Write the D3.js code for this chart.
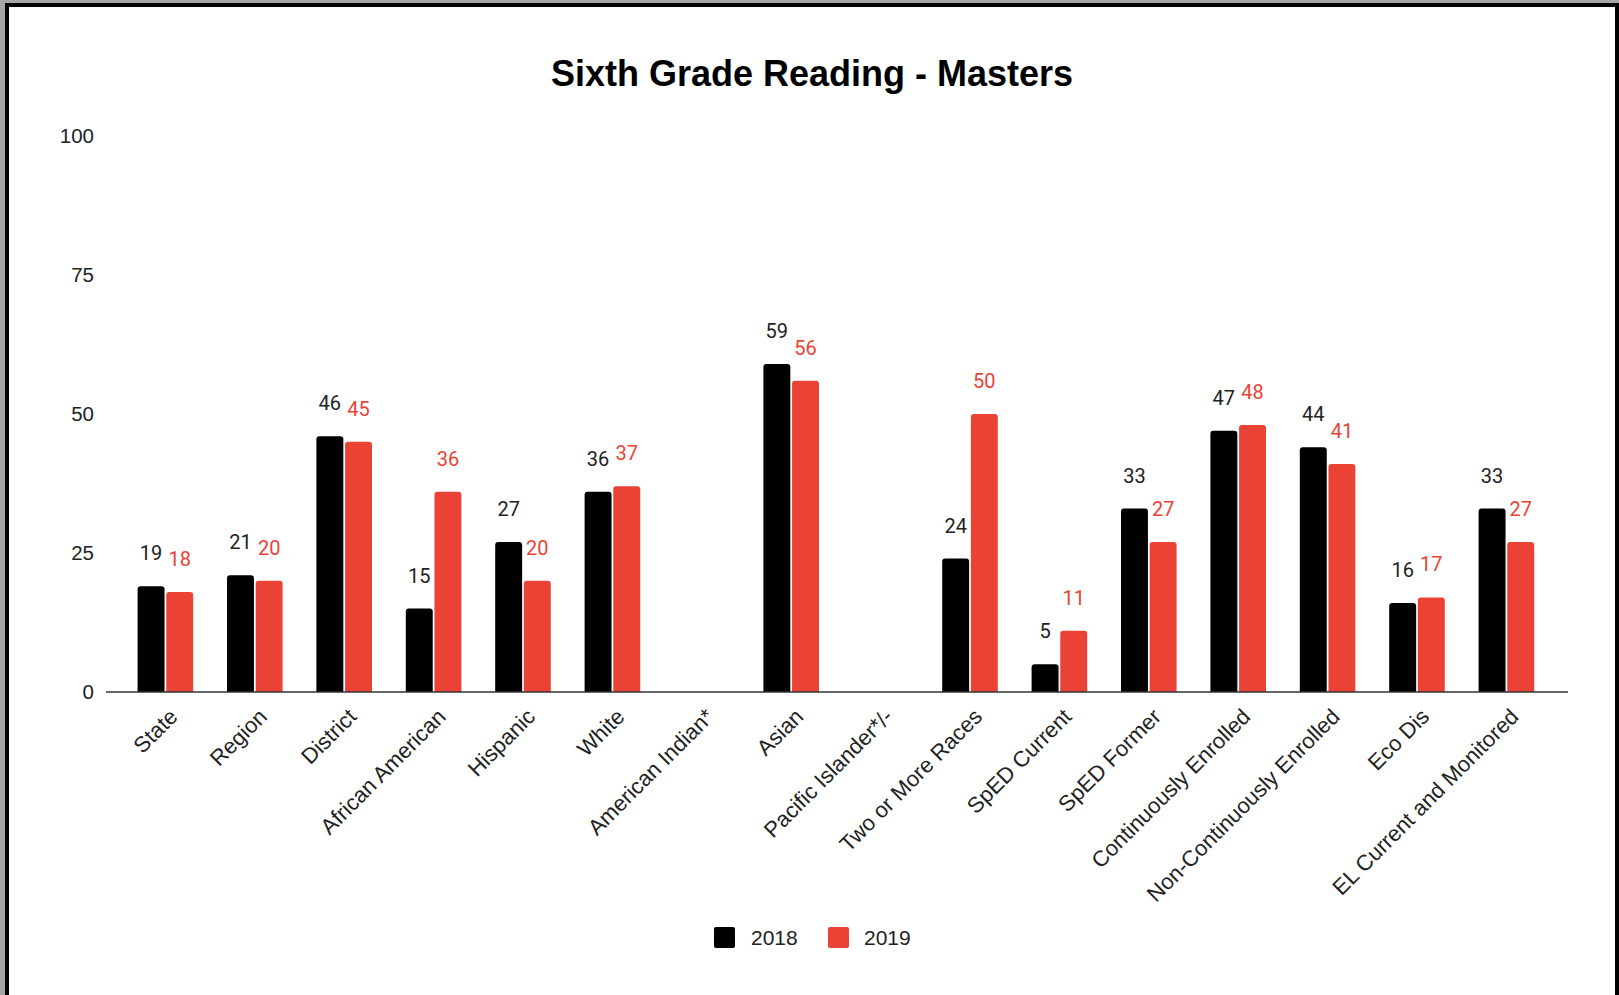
<!DOCTYPE html>
<html>
<head>
<meta charset="utf-8">
<script src="https://cdn.jsdelivr.net/npm/d3@7"></script>
<style>
  html, body { margin: 0; padding: 0; background: #a6a6a6; }
  svg { display: block; }
</style>
</head>
<body>
<svg id="chart" width="1619" height="995"></svg>
<script>
// Percent of sixth graders at "Masters" level in reading, by student group
const categories = [
  "State", "Region", "District", "African American", "Hispanic", "White",
  "American Indian*", "Asian", "Pacific Islander*/-", "Two or More Races",
  "SpED Current", "SpED Former", "Continuously Enrolled",
  "Non-Continuously Enrolled", "Eco Dis", "EL Current and Monitored"
];
const seriesNames = ["2018", "2019"];
const values2018 = [19, 21, 46, 15, 27, 36, null, 59, null, 24, 5, 33, 47, 44, 16, 33];
const values2019 = [18, 20, 45, 36, 20, 37, null, 56, null, 50, 11, 27, 48, 41, 17, 27];
const yTicks = [0, 25, 50, 75, 100];
const title = "Sixth Grade Reading - Masters";

const colors = { "2018": "#000000", "2019": "#ea4335" };
const labelColors = { "2018": "#222222", "2019": "#ea4335" };

const svg = d3.select("#chart");
const W = 1619, H = 995;

// page frame: white card with dark edge
svg.append("rect").attr("x", 5).attr("y", 3).attr("width", W - 5).attr("height", H - 3).attr("fill", "#000");
svg.append("rect").attr("x", 9).attr("y", 7).attr("width", W - 9 - 4).attr("height", H - 7).attr("fill", "#fff");

const plot = { left: 106, right: 1568, top: 136, bottom: 692 };

const x = d3.scaleBand()
  .domain(categories)
  .range([120.7, 1551.1])
  .paddingInner(0.378)
  .paddingOuter(0.189);

const x1 = d3.scaleBand()
  .domain(seriesNames)
  .range([0, x.bandwidth()])
  .paddingInner(0.06);

const y = d3.scaleLinear().domain([0, 100]).range([plot.bottom, plot.top]);

// title
svg.append("text")
  .attr("x", 812).attr("y", 86)
  .attr("text-anchor", "middle")
  .attr("font-family", "Liberation Sans, Arial, sans-serif")
  .attr("font-weight", "bold")
  .attr("font-size", 36)
  .attr("fill", "#000")
  .text(title);

// y axis (labels only)
const yAxis = svg.append("g")
  .attr("transform", `translate(${plot.left},0)`)
  .call(d3.axisLeft(y).tickValues(yTicks).tickSize(0).tickPadding(12));
yAxis.select(".domain").remove();
yAxis.selectAll("text")
  .attr("font-family", "Liberation Sans, Arial, sans-serif")
  .attr("font-size", 20.5)
  .attr("fill", "#222");

// bars
const rows = categories.map((c, i) => ({ c, vals: { "2018": values2018[i], "2019": values2019[i] } }));

function topRoundedBar(x0, y0, w, h, r) {
  r = Math.min(r, h, w / 2);
  return `M${x0},${y0 + h}V${y0 + r}Q${x0},${y0} ${x0 + r},${y0}H${x0 + w - r}Q${x0 + w},${y0} ${x0 + w},${y0 + r}V${y0 + h}Z`;
}

const groups = svg.append("g").selectAll("g")
  .data(rows).join("g")
  .attr("transform", d => `translate(${x(d.c)},0)`);

groups.selectAll("path")
  .data(d => seriesNames.filter(s => d.vals[s] != null).map(s => ({ s, v: d.vals[s] })))
  .join("path")
  .attr("d", d => topRoundedBar(x1(d.s), y(d.v), x1.bandwidth(), y(0) - y(d.v), 3))
  .attr("fill", d => colors[d.s]);

groups.selectAll("text")
  .data(d => seriesNames.filter(s => d.vals[s] != null).map(s => ({ s, v: d.vals[s] })))
  .join("text")
  .attr("x", d => x1(d.s) + x1.bandwidth() / 2)
  .attr("y", d => y(d.v) - 26)
  .attr("text-anchor", "middle")
  .attr("font-family", "Roboto, sans-serif")
  .attr("font-size", 20)
  .attr("fill", d => labelColors[d.s])
  .text(d => d.v);

// x axis line and rotated category labels
const xAxis = svg.append("g")
  .attr("transform", `translate(0,${plot.bottom})`)
  .call(d3.axisBottom(x).tickSize(0).tickPadding(0));
xAxis.select(".domain").remove();
svg.append("line")
  .attr("x1", plot.left).attr("x2", plot.right)
  .attr("y1", plot.bottom).attr("y2", plot.bottom)
  .attr("stroke", "#333").attr("stroke-width", 1.5);
xAxis.selectAll(".tick text")
  .attr("x", 0).attr("y", 0).attr("dy", "0.71em")
  .attr("text-anchor", "end")
  .attr("transform", "translate(2.5,15) rotate(-45)")
  .attr("font-family", "Liberation Sans, Arial, sans-serif")
  .attr("font-size", 22)
  .attr("fill", "#222");

// legend
const legendItems = [
  { s: "2018", sx: 714, tx: 751 },
  { s: "2019", sx: 828, tx: 864 }
];
const legend = svg.append("g");
legend.selectAll("rect")
  .data(legendItems).join("rect")
  .attr("x", d => d.sx).attr("y", 927)
  .attr("width", 21).attr("height", 21)
  .attr("rx", 2)
  .attr("fill", d => colors[d.s]);
legend.selectAll("text")
  .data(legendItems).join("text")
  .attr("x", d => d.tx).attr("y", 937.5)
  .attr("dy", "0.35em")
  .attr("font-family", "Liberation Sans, Arial, sans-serif")
  .attr("font-size", 21)
  .attr("fill", "#222")
  .text(d => d.s);
</script>
</body>
</html>
